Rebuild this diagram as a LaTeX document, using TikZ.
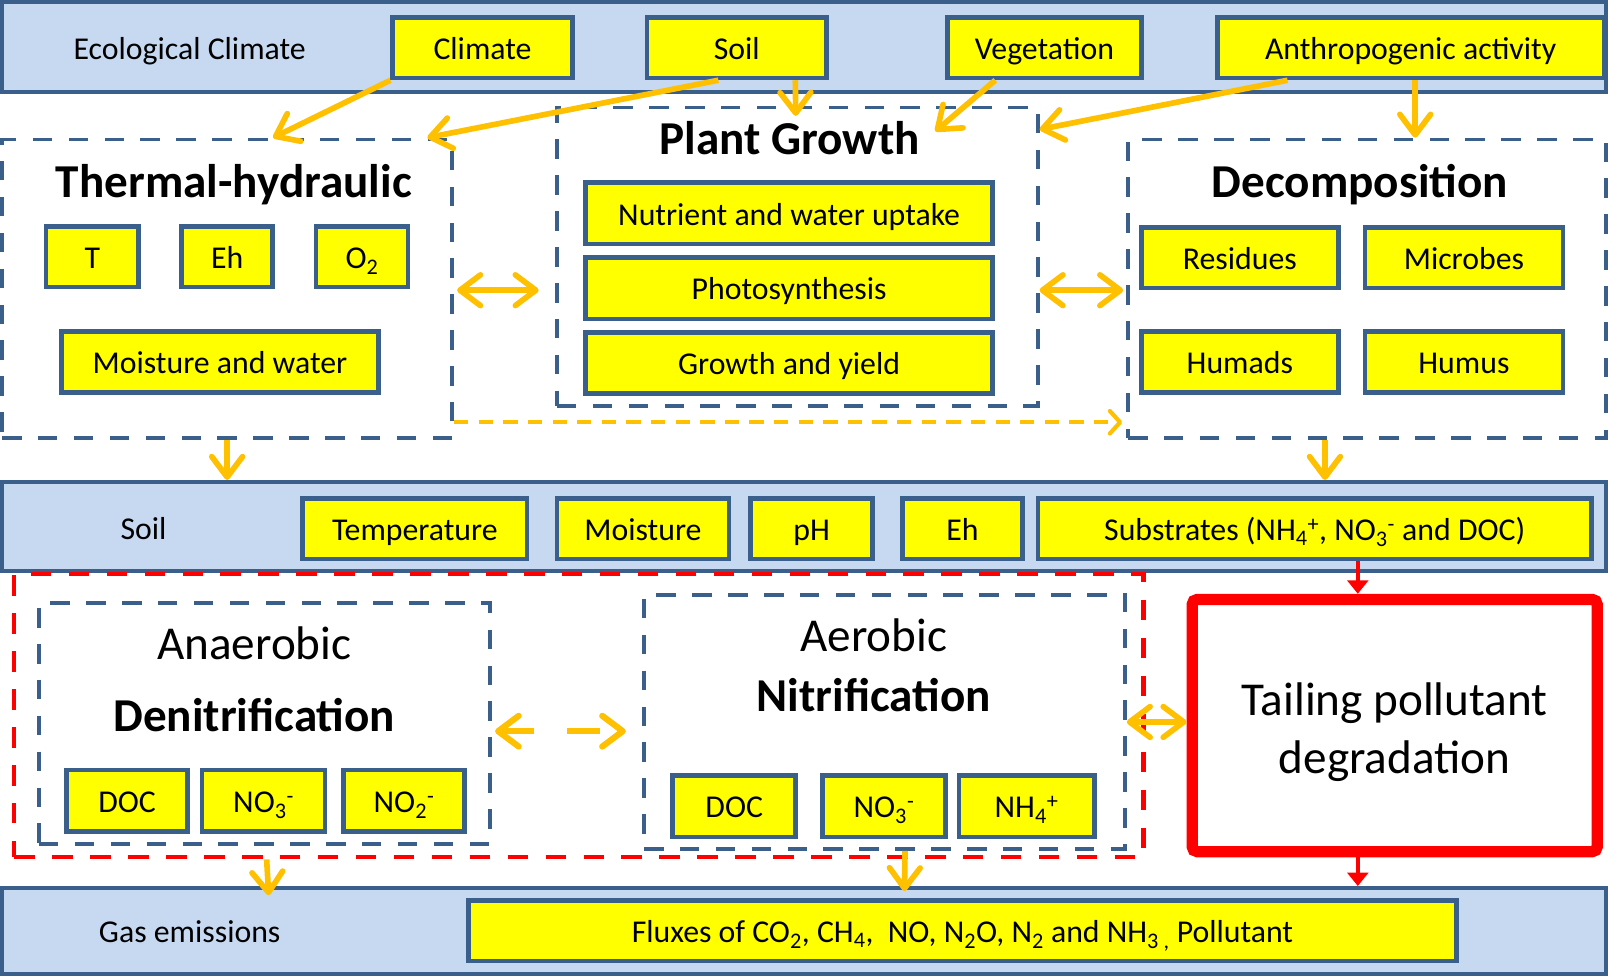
\documentclass[tikz,border=0pt]{standalone}
\usepackage{fontspec}
\setmainfont{Carlito}
\usetikzlibrary{arrows.meta}

\definecolor{bblue}{HTML}{3A5F8B}
\definecolor{lblue}{HTML}{C6D9F1}
\definecolor{yel}{HTML}{FFFF00}
\definecolor{orng}{HTML}{FFC000}

\begin{document}
\begin{tikzpicture}[x=1pt,y=-1pt,
        band/.style={draw=bblue, fill=lblue, line width=4pt, inner sep=0pt},
        ybox/.style={draw=bblue, fill=yel, line width=4.5pt, inner sep=0pt, minimum height=59pt, text height=23pt, text depth=0pt, font=\fontsize{31}{36}\selectfont},
        group/.style={draw=bblue, line width=3.5pt, dash pattern=on 19pt off 16pt, inner sep=0pt},
        lbl/.style={text height=23pt, text depth=0pt, font=\fontsize{31}{36}\selectfont},
        ttl/.style={font=\fontsize{46}{52}\selectfont\bfseries},
        subttl/.style={font=\fontsize{46}{52}\selectfont},
        oarrow/.style={draw=orng, line width=5.5pt, >={Straight Barb[length=20pt,width=30pt,round]}},
        rarrow/.style={draw=red, line width=4pt, -{Triangle[length=13pt,width=20pt]}}]
        \useasboundingbox (0,0) rectangle (1568,952);

        % ecological climate
        \node[band, minimum width=1564pt, minimum height=88pt] (ecoband) at (784,46) {};
        \node[lbl] (ecolbl) at (185,47) {Ecological Climate};
        \node[ybox, minimum width=175pt] (climate) at (470.5,46.5) {Climate};
        \node[ybox, minimum width=175pt] (soil) at (718.5,46.5) {Soil};
        \node[ybox, minimum width=189pt] (veg) at (1018.5,46.5) {Vegetation};
        \node[ybox, minimum width=377pt] (anthro) at (1375.5,46.5) {Anthropogenic activity};

        % thermal-hydraulic
        \node[group, minimum width=439pt, minimum height=291pt] (thermal) at (221.5,281.5) {};
        \node[ttl] (thermalttl) at (228,180) {Thermal-hydraulic};
        \node[ybox, minimum width=90pt] (tT) at (90,250.5) {T};
        \node[ybox, minimum width=89pt] (tEh) at (221.5,250.5) {Eh};
        \node[ybox, minimum width=90pt] (tO) at (353,250.5) {O\textsubscript{2}};
        \node[ybox, minimum width=309pt, minimum height=60pt] (tmoist) at (214.5,353) {Moisture and water};

        % plant growth
        \node[group, minimum width=469pt, minimum height=291pt] (plant) at (777.5,250.5) {};
        \node[ttl] (plantttl) at (770,135) {Plant Growth};
        \node[ybox, minimum width=397pt, minimum height=60pt] (nutr) at (769.5,208) {Nutrient and water uptake};
        \node[ybox, minimum width=397pt, minimum height=60pt] (photo) at (769.5,281) {Photosynthesis};
        \node[ybox, minimum width=397pt, minimum height=60pt] (yield) at (769.5,354) {Growth and yield};

        % decomposition
        \node[group, minimum width=466pt, minimum height=291pt] (decomp) at (1333,281.5) {};
        \node[ttl] (decompttl) at (1326,180) {Decomposition};
        \node[ybox, minimum width=192pt] (resid) at (1209,251.5) {Residues};
        \node[ybox, minimum width=193pt] (micro) at (1427.5,251.5) {Microbes};
        \node[ybox, minimum width=192pt, minimum height=60pt] (humads) at (1209,353) {Humads};
        \node[ybox, minimum width=193pt, minimum height=60pt] (humus) at (1427.5,353) {Humus};

        % soil
        \node[band, minimum width=1564pt, minimum height=87pt] (soilband) at (784,513.5) {};
        \node[lbl] (soillbl) at (140,515) {Soil};
        \node[ybox, minimum width=219pt] (temp) at (404.5,515.5) {Temperature};
        \node[ybox, minimum width=168pt] (moist) at (627,515.5) {Moisture};
        \node[ybox, minimum width=119pt] (ph) at (791.5,515.5) {pH};
        \node[ybox, minimum width=117pt] (eh) at (938.5,515.5) {Eh};
        \node[ybox, minimum width=540pt] (subs) at (1282,515.5) {Substrates (NH\textsubscript{4}\textsuperscript{+}, NO\textsubscript{3}\textsuperscript{-} and DOC)};

        % nitrogen processes
        \node[draw=red, line width=4pt, dash pattern=on 20pt off 17pt, inner sep=0pt, minimum width=1101pt, minimum height=276pt] (zone) at (564.5,698) {};
        \node[group, minimum width=440pt, minimum height=235pt] (anaer) at (258,705.5) {};
        \node[subttl] (anaerttl) at (248,627) {Anaerobic};
        \node[ttl] (denit) at (248,697) {Denitrification};
        \node[ybox, minimum width=118pt, minimum height=60pt] (ddoc) at (124,781) {DOC};
        \node[ybox, minimum width=120pt, minimum height=60pt] (dno3) at (257,781) {NO\textsubscript{3}\textsuperscript{-}};
        \node[ybox, minimum width=118pt, minimum height=60pt] (dno2) at (394,781) {NO\textsubscript{2}\textsuperscript{-}};

        \node[group, minimum width=469pt, minimum height=248pt] (aer) at (862.5,704) {};
        \node[subttl] (aerttl) at (852,619) {Aerobic};
        \node[ttl] (nitr) at (852,678) {Nitrification};
        \node[ybox, minimum width=120pt, minimum height=60pt] (ndoc) at (716,786) {DOC};
        \node[ybox, minimum width=120pt, minimum height=60pt] (nno3) at (862,786) {NO\textsubscript{3}\textsuperscript{-}};
        \node[ybox, minimum width=132pt, minimum height=60pt] (nnh4) at (1001,786) {NH\textsubscript{4}\textsuperscript{+}};

        \node[draw=red, line width=11pt, rounded corners=5pt, minimum width=395pt, minimum height=246pt] (tail) at (1360,707.5) {};
        \node[align=center, font=\fontsize{46}{57}\selectfont] (taillbl) at (1360,714) {Tailing pollutant\\degradation};

        % gas emissions
        \node[band, minimum width=1564pt, minimum height=84pt] (gasband) at (784,908) {};
        \node[lbl] (gaslbl) at (185,908) {Gas emissions};
        \node[ybox, minimum width=963pt] (flux) at (938.5,907.5) {Fluxes of CO\textsubscript{2}, CH\textsubscript{4},\ \ NO, N\textsubscript{2}O, N\textsubscript{2} and NH\textsubscript{3 ,} Pollutant};

        \coordinate (pgtop) at (776,113);
        \coordinate (pgveg) at (912,128);
        \coordinate (g1) at (262,873);
        \coordinate (g2) at (882,869);

        \draw[oarrow, ->] (climate.south west) -- ([xshift=266pt]thermal.north west);
        \draw[oarrow, ->] ([xshift=-18pt]soil.south) -- ([xshift=-26pt]thermal.north east);
        \draw[oarrow, ->] ([xshift=57pt]soil.south) -- (pgtop);
        \draw[oarrow, ->] ([xshift=-48pt]veg.south) -- (pgveg);
        \draw[oarrow, ->] ([xshift=-120pt]anthro.south) -- ([yshift=-23pt]plant.north east);
        \draw[oarrow, ->] ([xshift=4.5pt]anthro.south) -- ([xshift=47pt]decomp.north);

        \draw[oarrow, <->] ([xshift=3pt,yshift=-1.5pt]thermal.east) -- ([xshift=-16pt,yshift=-32.5pt]plant.west);
        \draw[oarrow, <->] ([yshift=-32.5pt]plant.east) -- ([xshift=-3pt,yshift=-1.5pt]decomp.west);
        \draw[oarrow, ->, line width=4pt, dash pattern=on 14pt off 10pt, >={Straight Barb[length=10pt,width=22pt,round]}] ([yshift=17pt]thermal.south east) -- ([xshift=-4pt,yshift=17pt]decomp.south west);

        \draw[oarrow, ->] (thermal.south) -- (thermal.south |- soilband.north);
        \draw[oarrow, ->] ([xshift=-41pt]decomp.south) -- ([xshift=-41pt]decomp.south |- soilband.north);

        \draw[oarrow, <->, line width=6pt, dash pattern=on 32pt off 32pt] ([xshift=3pt,yshift=-7.5pt]anaer.east) -- ([xshift=-16pt,yshift=-7.5pt]anaer.east -| aer.west);
        \draw[oarrow, <->] (aer.east) -- (aer.east -| tail.west);

        \draw[rarrow] ([xshift=42pt]subs.south) -- ([xshift=42pt]subs.south |- tail.north);
        \draw[rarrow] ([xshift=-36pt]tail.south) -- ([xshift=-36pt]tail.south |- gasband.north);

        \draw[oarrow, ->] ([xshift=248pt]zone.south west) -- (g1);
        \draw[oarrow, ->] ([xshift=20pt]aer.south) -- (g2);
\end{tikzpicture}
\end{document}
